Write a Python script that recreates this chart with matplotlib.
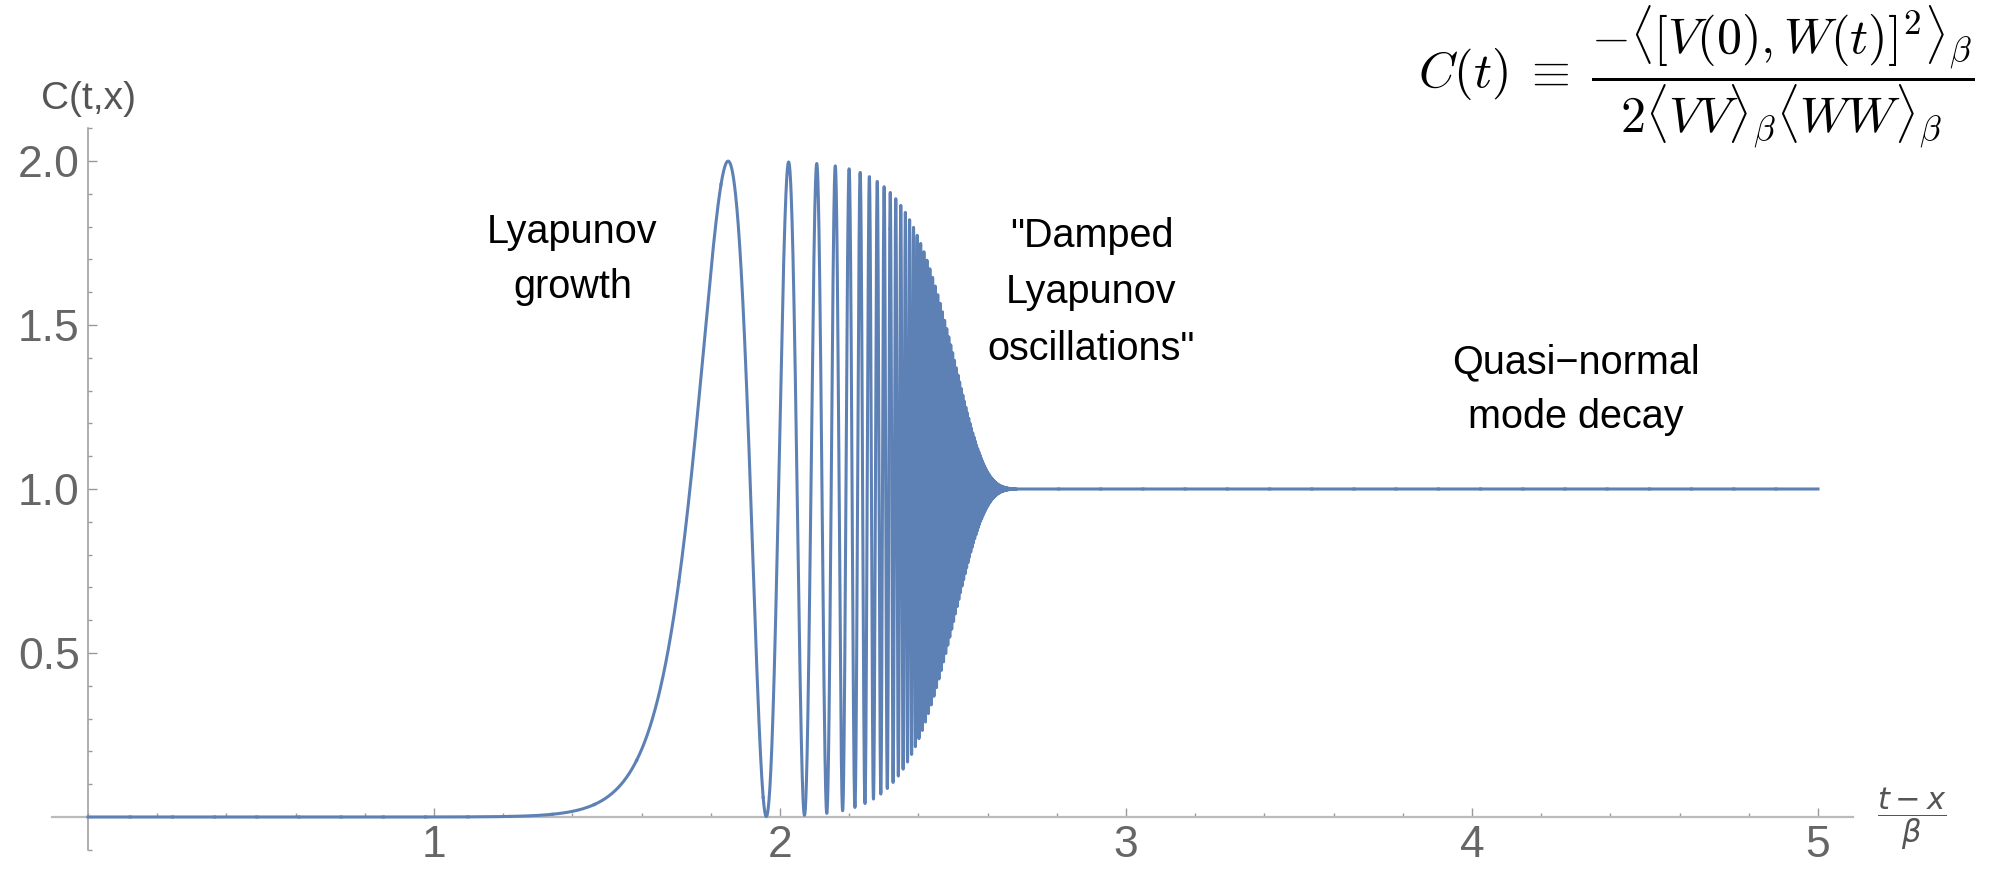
import numpy as np
import matplotlib
matplotlib.use('Agg')
import matplotlib.pyplot as plt
from matplotlib.ticker import MultipleLocator

plt.rcParams['font.family'] = ['Liberation Sans', 'DejaVu Sans']
plt.rcParams['agg.path.chunksize'] = 10000

# values (t in units of beta)
t_start, t_end = 0.0, 5.0
t_first_peak = 1.85        # first maximum C = 2
lyapunov_rate = 2 * np.pi  # zeros of C at 1.96, 2.07, 2.14, 2.18, 2.22 -> phase doubles every ~0.11
damp_t0 = 2.2              # envelope ~0.976 here
damp_a = 0.0243
damp_rate = 12.0           # envelope ~0.5 at 2.48, ~0.2 at 2.55, gone by 2.65

x_ticks = [1, 2, 3, 4, 5]
y_ticks = [0.5, 1.0, 1.5, 2.0]
y_tick_labels = ['0.5', '1.0', '1.5', '2.0']

notes = [
    # (x center, baseline y, text)
    (1.40, 1.750, 'Lyapunov'),
    (1.40, 1.582, 'growth'),
    (2.90, 1.738, '"Damped'),
    (2.90, 1.567, 'Lyapunov'),
    (2.90, 1.393, 'oscillations"'),
    (4.30, 1.354, 'Quasi\u2212normal'),
    (4.30, 1.186, 'mode decay'),
]

formula = (r'$C(t)\;\equiv\;\dfrac{-\langle [V(0),W(t)]^2\rangle_\beta}'
           r'{2\langle VV\rangle_\beta\langle WW\rangle_\beta}$')

t = np.linspace(t_start, t_end, 400001)
phase = np.pi * np.exp(lyapunov_rate * (t - t_first_peak))
envelope = np.exp(-damp_a * np.exp(damp_rate * (t - damp_t0)))
c = 1 - envelope * np.cos(phase)

fig = plt.figure(figsize=(19.93, 8.71), dpi=100)
ax = fig.add_axes([0.02594, 0.02434, 0.90361, 0.82848])

ax.plot(t, c, color='#5E81B5', lw=2.2, zorder=3)

ax.set_xlim(-0.105, 5.1)
ax.set_ylim(-0.1, 2.1)

for s in ['top', 'right']:
    ax.spines[s].set_visible(False)
ax.spines['left'].set_position(('data', 0))
ax.spines['bottom'].set_position(('data', 0))
ax.spines['left'].set_color('#999999')
ax.spines['bottom'].set_color('#bbbbbb')
ax.spines['left'].set_linewidth(1.1)
ax.spines['bottom'].set_linewidth(1.6)

ax.set_xticks(x_ticks)
ax.set_xticklabels([str(v) for v in x_ticks])
ax.xaxis.set_minor_locator(MultipleLocator(0.2))
ax.set_yticks(y_ticks)
ax.set_yticklabels(y_tick_labels)
ax.yaxis.set_minor_locator(MultipleLocator(0.1))

ax.tick_params(axis='both', which='both', direction='in', color='#999999',
               labelcolor='#666666', labelsize=32, width=1)
ax.tick_params(axis='both', which='major', length=6.5)
ax.tick_params(axis='both', which='minor', length=3.2)
ax.tick_params(axis='x', which='major', pad=6)
ax.tick_params(axis='y', which='major', pad=6)

for x, y, s in notes:
    ax.text(x, y, s, ha='center', va='baseline', fontsize=28.5, color='black')

ax.text(0, 2.16, 'C(t,x)', ha='center', va='baseline', fontsize=28,
        color='#555555', clip_on=False)
ax.text(5.27, -0.005, r'$\dfrac{t-x}{\beta}$', ha='center', va='center',
        fontsize=22, color='#555555', math_fontfamily='dejavusans', clip_on=False)

fig.text(1975 / 1993, 1 - 77 / 871, formula, ha='right', va='center',
         fontsize=36, math_fontfamily='cm')

fig.savefig('out.png', dpi=100)
